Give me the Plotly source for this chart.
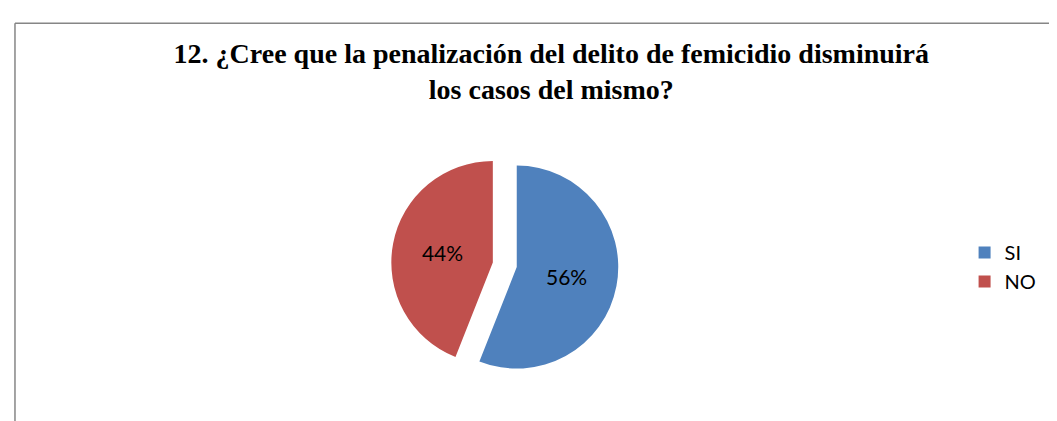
import plotly.graph_objects as go

labels = ["SI", "NO"]
values = [56, 44]
colors = ["#4F81BD", "#C0504D"]
title_lines = [
    "12. ¿Cree que la penalización del delito de femicidio disminuirá",
    "los casos del mismo?",
]

fig = go.Figure(
    go.Pie(
        labels=labels,
        values=values,
        sort=False,
        direction="clockwise",
        rotation=0,
        pull=[0.12, 0.12],
        marker={"colors": colors, "line": {"color": "white", "width": 0}},
        textinfo="percent",
        texttemplate="%{percent:.0%}",
        textposition="inside",
        insidetextorientation="horizontal",
        textfont={"family": "Lato, Open Sans, sans-serif", "size": 21, "color": "black"},
        domain={"x": [0.30, 0.64], "y": [0.12, 0.66]},
        hoverinfo="label+percent",
    )
)

fig.update_layout(
    width=1057,
    height=421,
    margin={"l": 0, "r": 0, "t": 0, "b": 0},
    paper_bgcolor="white",
    plot_bgcolor="white",
    title={
        "text": "<b>" + "<br>".join(title_lines) + "</b>",
        "x": 0.514,
        "xanchor": "center",
        "y": 0.87,
        "yanchor": "top",
        "font": {"family": "Liberation Serif, Times New Roman, serif", "size": 28, "color": "black"},
    },
    legend={
        "x": 0.905,
        "y": 0.385,
        "xanchor": "left",
        "yanchor": "middle",
        "font": {"family": "Lato, Open Sans, sans-serif", "size": 20, "color": "black"},
        "traceorder": "normal",
    },
    shapes=[
        {"type": "line", "xref": "paper", "yref": "paper", "x0": 0.0066, "x1": 1.0,
         "y0": 0.964, "y1": 0.964, "line": {"color": "#868686", "width": 1.5}},
        {"type": "line", "xref": "paper", "yref": "paper", "x0": 0.0066, "x1": 0.0066,
         "y0": 0.0, "y1": 0.964, "line": {"color": "#868686", "width": 1.5}},
    ],
)

fig.write_html("out.html")
